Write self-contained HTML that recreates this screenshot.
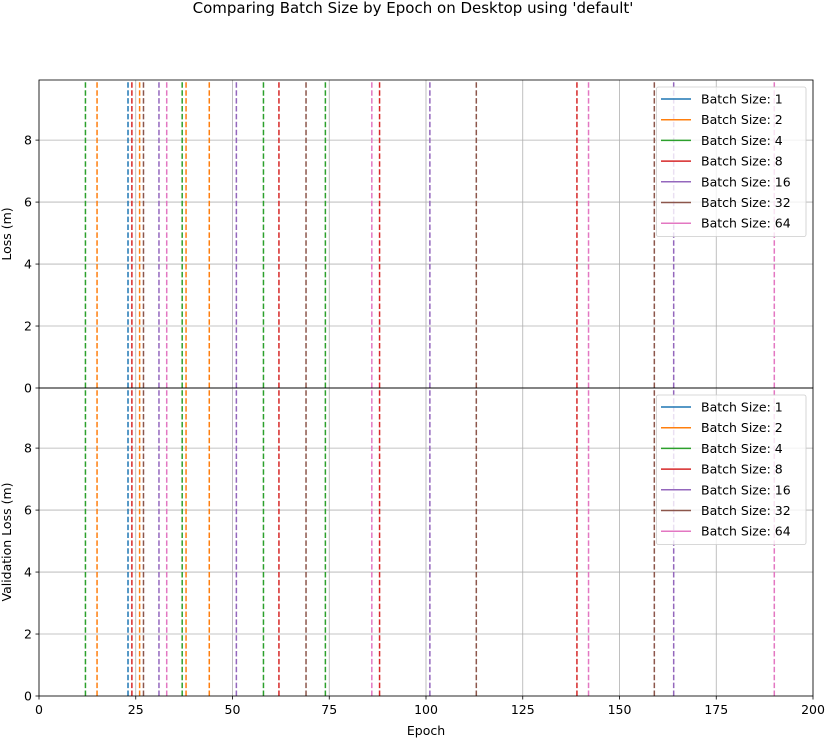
<!DOCTYPE html>
<html><head><meta charset="utf-8"><style>
body{margin:0;background:#fff;}
svg text{font-family:"DejaVu Sans","Liberation Sans",sans-serif;}
</style></head><body>
<svg id="chart" width="826" height="739" viewBox="0 0 826 739" xmlns="http://www.w3.org/2000/svg">
<text x="413" y="13" text-anchor="middle" font-size="15">Comparing Batch Size by Epoch on Desktop using 'default'</text>
</svg>
<script>
const batchSizes = ['1','2','4','8','16','32','64'];
const colors = ['#1f77b4','#ff7f0e','#2ca02c','#d62728','#9467bd','#8c564b','#e377c2'];
const epochsB1 = [23];
const epochsB2 = [15,26,38,44];
const epochsB4 = [12,37,58,74];
const epochsB8 = [24,62,88,139];
const epochsB16 = [31,51,101,164];
const epochsB32 = [27,69,113,159];
const epochsB64 = [33,86,142,190];
const seriesEpochs = [epochsB1,epochsB2,epochsB4,epochsB8,epochsB16,epochsB32,epochsB64];
const xTicks = [0,25,50,75,100,125,150,175,200];
const yTicks = [0,2,4,6,8];
const yMax = 9.94;
const svg = document.getElementById('chart');
const NS = 'http://www.w3.org/2000/svg';
const X0=39, X1=813;
const xs = v => X0 + (v/200)*(X1-X0);
function mk(tag, attrs, parent){const e=document.createElementNS(NS,tag);for(const k in attrs)e.setAttribute(k,attrs[k]);(parent||svg).appendChild(e);return e;}
const panels = [{top:80,bot:388,label:'Loss (m)',name:'loss'},{top:388,bot:696,label:'Validation Loss (m)',name:'validation-loss'}];
panels.forEach((p,pi)=>{
  const g = mk('g',{});
  
  
  const ys = v => p.bot - (v/yMax)*(p.bot-p.top);
  xTicks.forEach(t=>{
    const l=mk('line',{x1:xs(t),x2:xs(t),y1:p.top,y2:p.bot,stroke:'#b0b0b0','stroke-width':0.8},g);
    
    
  });
  yTicks.forEach(t=>{
    const l=mk('line',{x1:X0,x2:X1,y1:ys(t),y2:ys(t),stroke:'#b0b0b0','stroke-width':0.8},g);
    
    
    mk('line',{x1:X0-3.5,x2:X0,y1:ys(t),y2:ys(t),stroke:'#000','stroke-width':0.8},g);
    const tx=mk('text',{x:X0-7,y:ys(t)+4.5,'text-anchor':'end','font-size':12.5},g);
    tx.textContent=t;
    
    
  });
  seriesEpochs.forEach((arr,si)=>{
    arr.forEach(e=>{
      const l=mk('line',{x1:xs(e),x2:xs(e),y1:ys(0),y2:ys(yMax),stroke:colors[si],'stroke-width':1.5,'stroke-dasharray':'5.5,2.4'},g);
      
      
    });
  });
  mk('rect',{x:X0,y:p.top,width:X1-X0,height:p.bot-p.top,fill:'none',stroke:'#000','stroke-width':0.8},g);
  const yl=mk('text',{x:0,y:0,'text-anchor':'middle','font-size':12.5,transform:`translate(11,${(p.top+p.bot)/2}) rotate(-90)`},g);
  yl.textContent=p.label;
  
  
  // legend
  const lg=mk('g',{},g);
  
  
  const ly=p.top+7;
  mk('rect',{x:656.5,y:ly,width:149.5,height:149.5,rx:2,fill:'#fff','fill-opacity':0.8,stroke:'#ccc','stroke-width':0.8},lg);
  batchSizes.forEach((b,i)=>{
    const cy=ly+12+i*20.7;
    const e=mk('g',{},lg);
    
    
    mk('line',{x1:661,x2:691,y1:cy,y2:cy,stroke:colors[i],'stroke-width':1.5},e);
    const t=mk('text',{x:701,y:cy+4.5,'font-size':12.5},e);
    t.textContent='Batch Size: '+b;
  });
});
xTicks.forEach(t=>{
  mk('line',{x1:xs(t),x2:xs(t),y1:696,y2:699.5,stroke:'#000','stroke-width':0.8});
  const tx=mk('text',{x:xs(t),y:714,'text-anchor':'middle','font-size':12.5});
  tx.textContent=t;
  
  
});
const xl=mk('text',{x:426,y:735,'text-anchor':'middle','font-size':12.5});
xl.textContent='Epoch';


</script>
</body></html>
